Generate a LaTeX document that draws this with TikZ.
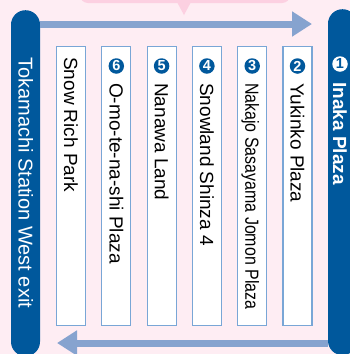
\documentclass[tikz,border=0pt]{standalone}
\usepackage{fontspec}
\setmainfont{Liberation Sans}
\usetikzlibrary{arrows.meta,math}

\definecolor{navy}{HTML}{00589C}
\definecolor{routeblue}{HTML}{86A3CF}
\definecolor{boxline}{HTML}{79A6D6}
\definecolor{bgpink}{HTML}{FEEDF3}
\definecolor{calloutpink}{HTML}{FCD0E1}

\begin{document}
\begin{tikzpicture}[x=1pt,y=-1pt,
                    stop/.style={draw=boxline,fill=white,line width=1.2pt,minimum width=29pt,minimum height=279pt,anchor=north,inner sep=0},
                    stopname/.style={rotate=-90,anchor=west,inner sep=0,text height=13.6pt,text depth=0pt,font=\fontsize{19}{19}\selectfont},
                    numdot/.style={circle,fill=navy,text=white,inner sep=0,minimum size=15.5pt,font=\fontsize{14.5}{14.5}\selectfont\bfseries},
                    bar/.style={fill=navy,rounded corners=14.5pt,minimum width=29pt,inner sep=0,anchor=north},
                    route/.style={draw=routeblue,line width=7pt,-{Triangle[length=20pt,width=24pt]}}]
      \tikzmath{
        function stopx(\k) {
          return 71 + 45.3*(\k - 1);
        };
      }
      \useasboundingbox (0,0) rectangle (350,354);
      \clip (0,0) rectangle (350,354);
      \fill[bgpink] (0,0) rectangle (350,354);

      % callout at the top
      \fill[calloutpink,rounded corners=8pt] (80,-20) rectangle (290,3);
      \fill[calloutpink] (177,2) -- (184,15) -- (191,2) -- cycle;

      % the two ends of the line
      \node[bar,minimum height=346pt] (station) at (25.5,10) {};
      \node[bar,minimum height=346pt] (inaka) at (342.5,9) {};
      \node[stopname,text=white,font=\fontsize{20}{20}\selectfont] (stationname) at (25.5,57) {Tokamachi Station West exit};
      \node[numdot,fill=white,text=navy] (dot1) at (340,64) {1};
      \node[stopname,text=white,font=\fontsize{19}{19}\selectfont\bfseries] (inakaname) at (340,82) {Inaka Plaza};

      \coordinate (outend) at (312,24);
      \coordinate (backend) at (57,343);
      \draw[route] (station.east |- outend) -- (outend);
      \draw[route] (inaka.west |- backend) -- (backend);

      \foreach[count=\i] \ty/\name in {57/Snow Rich Park,83/O-mo-te-na-shi Plaza,83/Nanawa Land,83/Snowland Shinza 4,83/{\scalebox{0.84}[1]{Nakajo Sasayama Jomon Plaza}},83/Yukinko Plaza} {
        \tikzmath{
          real \x;
          \x = stopx(\i);
        }
        \node[stop] (stop\i) at (\x,46) {};
        \node[stopname] (name\i) at (\x,\ty) {\name};
      }

      \foreach[count=\i from 2] \num in {6,5,4,3,2} {
        \tikzmath{
          real \x;
          \x = stopx(\i);
        }
        \node[numdot] (dot\num) at (\x,66) {\num};
      }
    \end{tikzpicture}
\end{document}
